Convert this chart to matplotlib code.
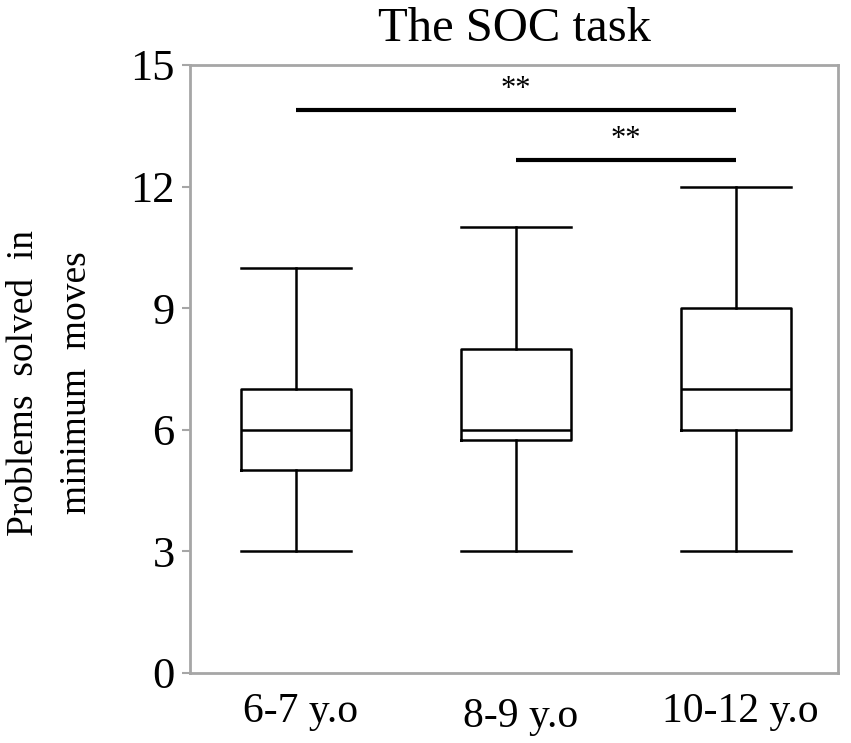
import numpy as np
import matplotlib.pyplot as plt

plt.rcParams['font.family'] = ['Liberation Serif', 'DejaVu Serif']

groups = ['6-7 y.o', '8-9 y.o', '10-12 y.o']
mins = [3, 3, 3]
q1s = [5, 5.75, 6]
medians = [6, 6, 7]
q3s = [7, 8, 9]
maxs = [10, 11, 12]

# significance brackets: (from group, to group, height)
sig_pairs = [(0, 2, 13.9), (1, 2, 12.65)]
sig_labels = ['**', '**']

fig = plt.figure(figsize=(8.51, 7.43), dpi=100)
ax = fig.add_axes([190/851, 70/743, 648/851, 608/743])

stats = []
for g, lo, a, m, b, hi in zip(groups, mins, q1s, medians, q3s, maxs):
    stats.append({'label': g, 'whislo': lo, 'q1': a, 'med': m, 'q3': b, 'whishi': hi, 'fliers': []})

pos = np.arange(len(groups))
lw = 1.8
ax.bxp(stats, positions=pos, widths=0.5, capwidths=0.5, showfliers=False,
       boxprops=dict(color='black', linewidth=lw),
       medianprops=dict(color='black', linewidth=lw),
       whiskerprops=dict(color='black', linewidth=lw),
       capprops=dict(color='black', linewidth=lw))

for (i, j, h), lab in zip(sig_pairs, sig_labels):
    ax.plot([pos[i], pos[j]], [h, h], color='black', linewidth=3, solid_capstyle='butt')
    ax.text((pos[i] + pos[j]) / 2, h + 0.5, lab, ha='center', va='center', fontsize=22)

ax.set_xlim(-0.482, 2.464)
ax.set_ylim(0, 15)
ax.set_yticks([0, 3, 6, 9, 12, 15])
ax.tick_params(axis='y', labelsize=32, color='#a6a6a6', length=6, width=1.5, pad=5)
ax.set_xticks([])
for i, g in enumerate(groups):
    dy = -0.072 if i == 1 else -0.064
    ax.text(pos[i] + 0.02, dy, g, transform=ax.get_xaxis_transform(), ha='center', va='center', fontsize=30)

for s in ax.spines.values():
    s.set_color('#a6a6a6')
    s.set_linewidth(2)

ax.set_title('The SOC task', fontsize=35, pad=17)
fig.text(50/851, 1 - 383/743, 'Problems  solved  in\nminimum  moves', rotation=90,
         ha='center', va='center', fontsize=27, linespacing=1.7)

fig.savefig('out.png', dpi=100)
